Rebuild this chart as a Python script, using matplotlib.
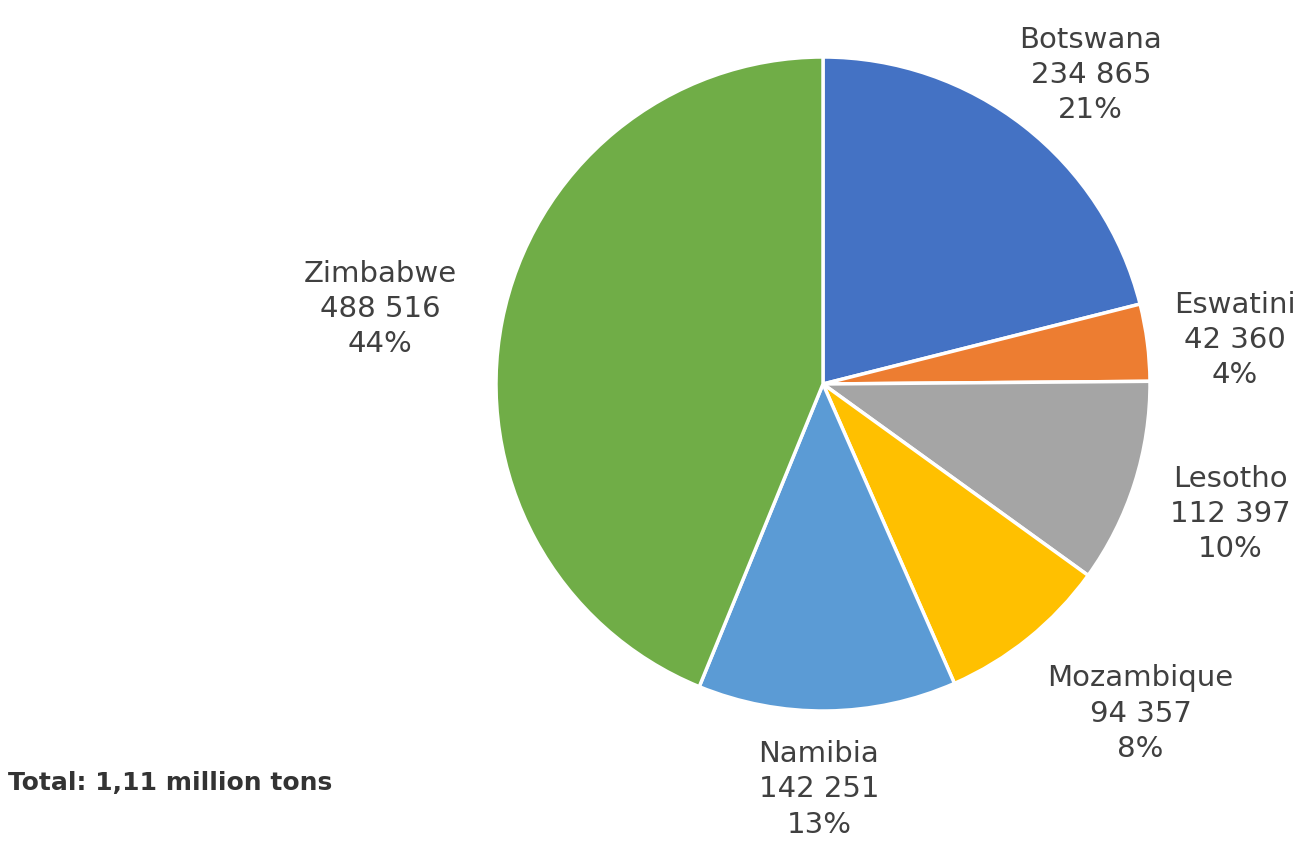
import numpy as np
import matplotlib
matplotlib.use("Agg")
from matplotlib import pyplot as plt

countries = ["Botswana", "Eswatini", "Lesotho", "Mozambique", "Namibia", "Zimbabwe"]
tons = [234865, 42360, 112397, 94357, 142251, 488516]
shares = ["21%", "4%", "10%", "8%", "13%", "44%"]
colors = ["#4472C4", "#ED7D31", "#A5A5A5", "#FFC000", "#5B9BD5", "#70AD47"]
# label placement: distance from centre (in radii) and angle nudge (degrees)
label_dist = [1.25, 1.267, 1.308, 1.40, 1.24, 1.374]
label_nudge = [-3.0, -1.2, 0.0, 5.0, -1.3, 1.5]
total_text = "Total: 1,11 million tons"

plt.rcParams['font.family'] = ['DejaVu Sans']

fig = plt.figure(figsize=(13.16, 8.66), dpi=100)
ax = fig.add_axes([496/1316, 155/866, 654/1316, 654/866])

wedges, _ = ax.pie(tons, colors=colors, startangle=90, counterclock=False,
                   radius=1.0, wedgeprops=dict(edgecolor="white", linewidth=2.5))
ax.set_xlim(-1, 1)
ax.set_ylim(-1, 1)
ax.set_aspect("equal")

for w, name, v, s, d, n in zip(wedges, countries, tons, shares, label_dist, label_nudge):
    ang = np.deg2rad((w.theta1 + w.theta2) / 2 + n)
    txt = "%s\n%s\n%s" % (name, format(v, ",").replace(",", " "), s)
    ax.text(d*np.cos(ang), d*np.sin(ang), txt, ha="center", va="center",
            fontsize=21, color="#404040", linespacing=1.33, clip_on=False)

fig.text(8/1316, 1 - 783/866, total_text, fontsize=18, fontweight="bold",
         color="#333333", ha="left", va="center")

fig.savefig("out.png", dpi=100)
